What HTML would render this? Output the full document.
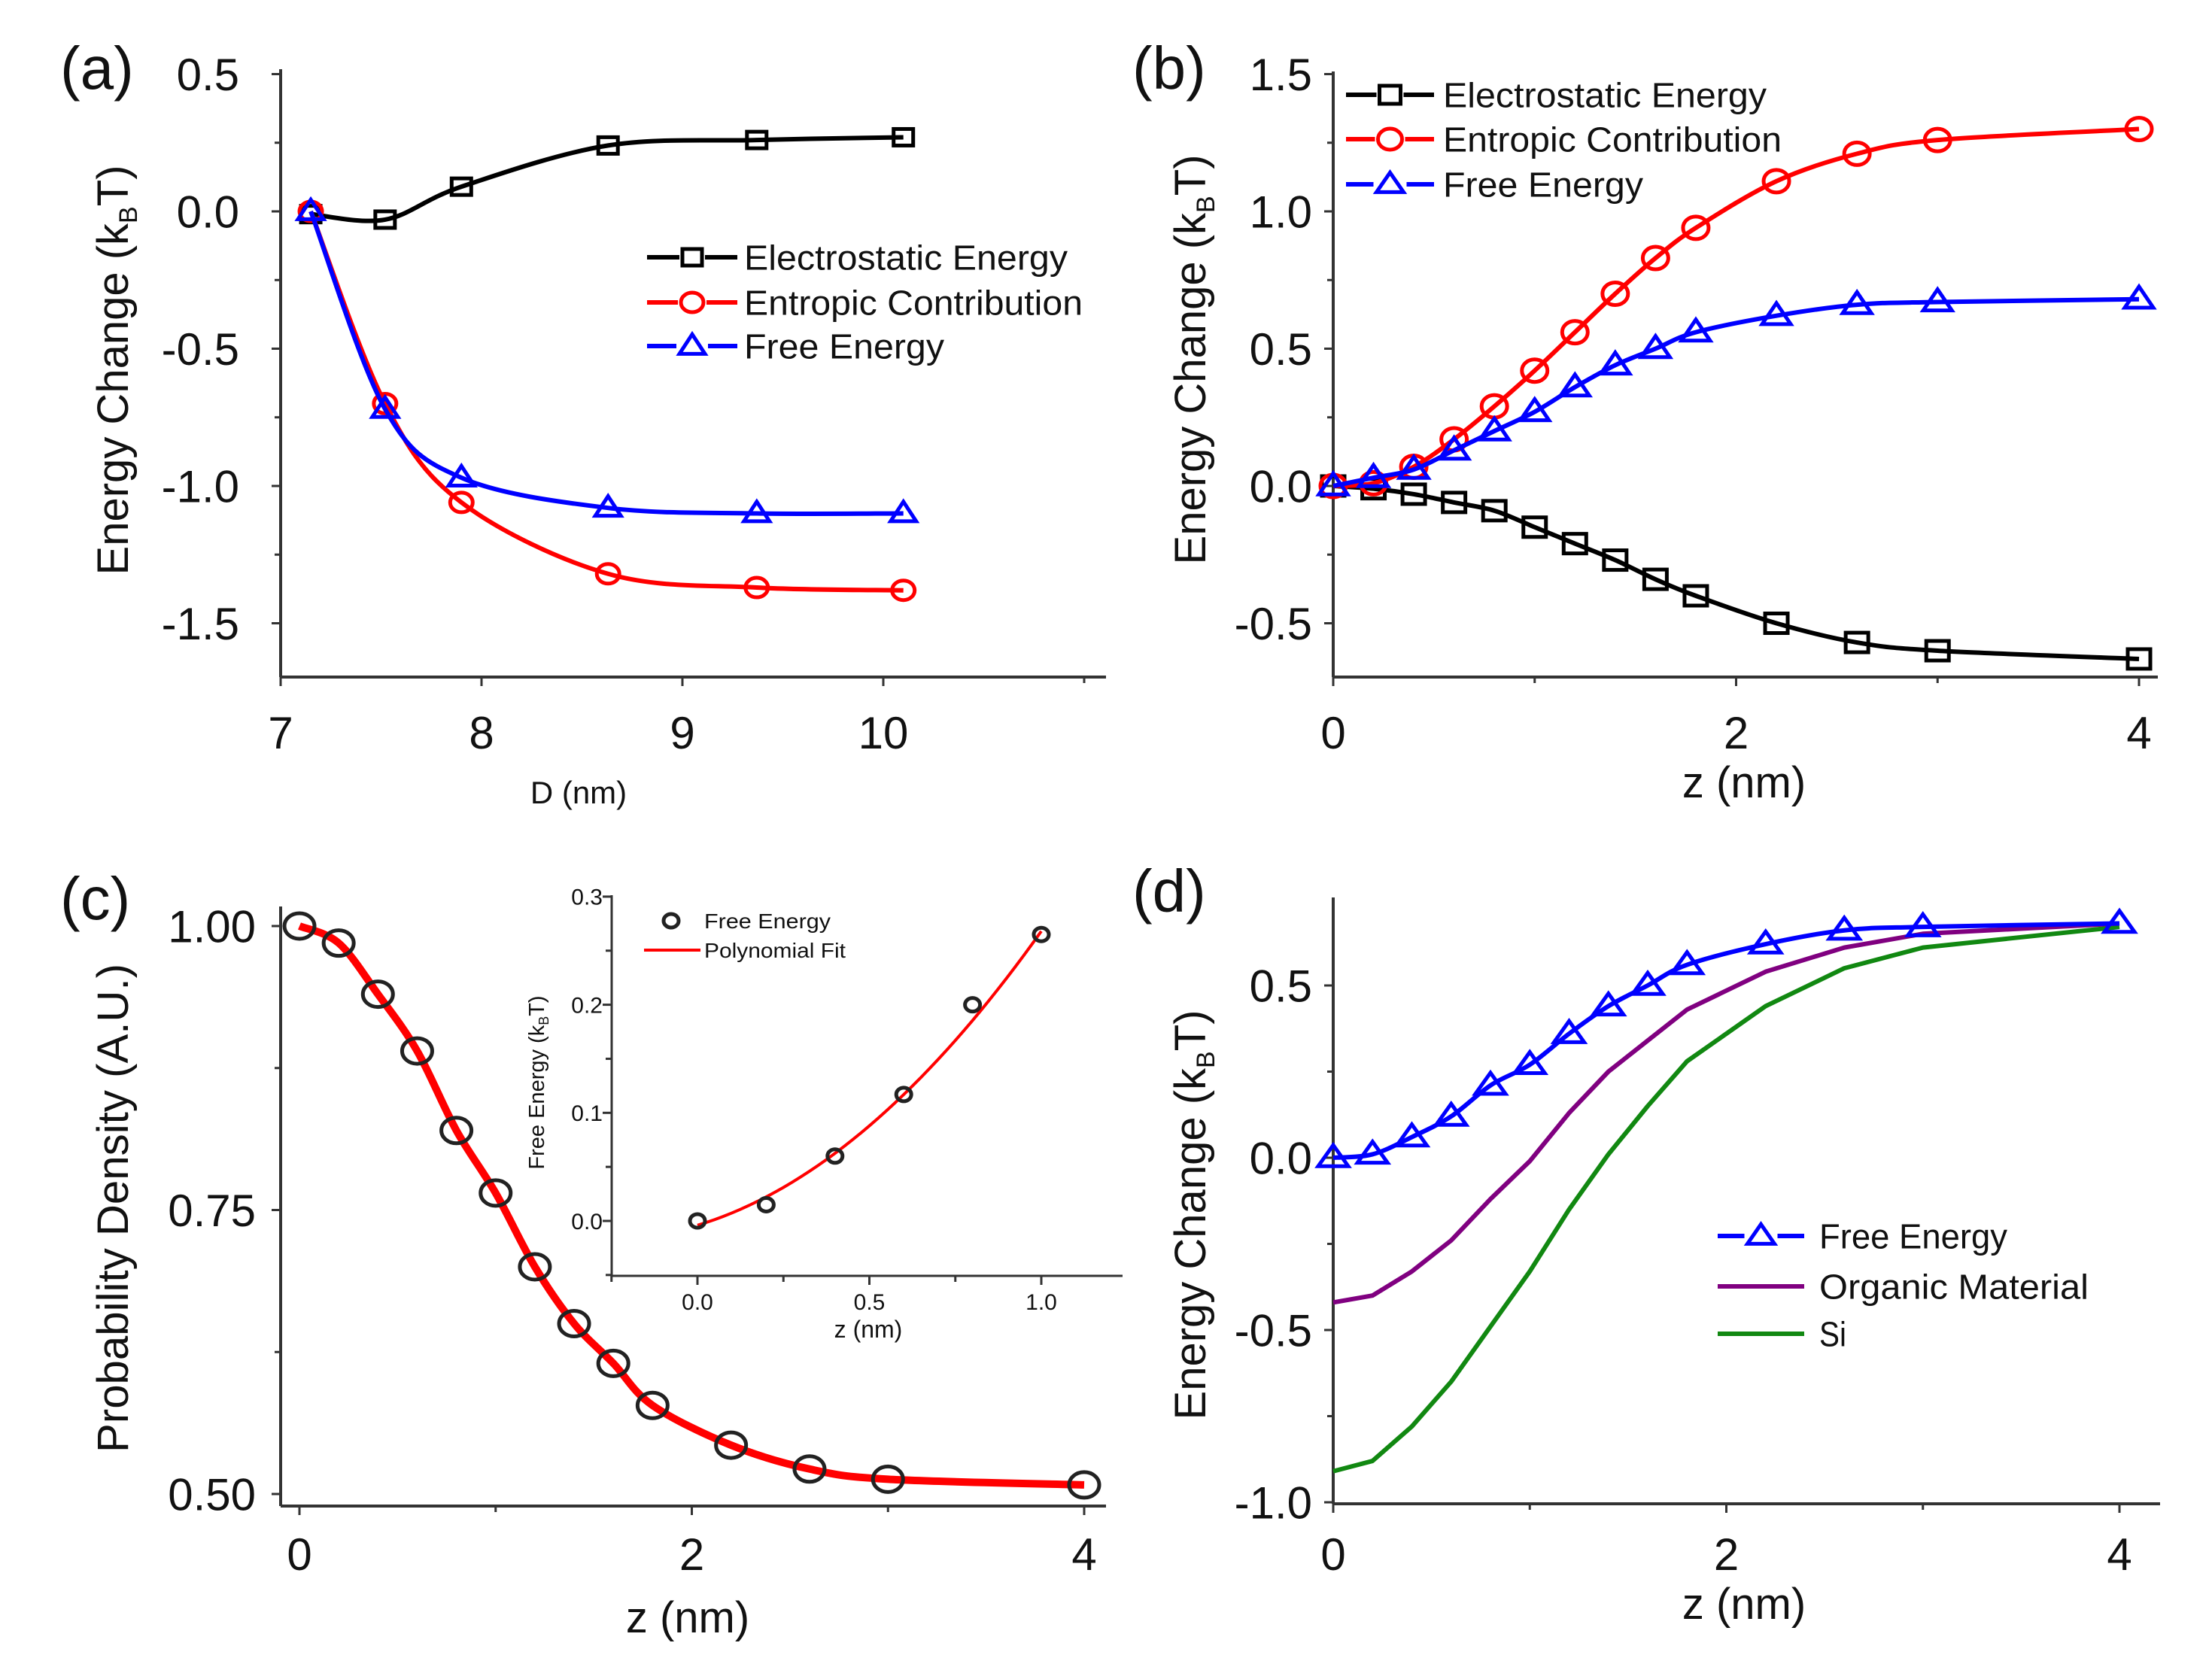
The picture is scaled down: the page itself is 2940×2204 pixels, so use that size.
<!DOCTYPE html>
<html><head><meta charset="utf-8"><style>
html,body{margin:0;padding:0;background:#fff;}
svg{display:block;}
text{font-family:"Liberation Sans",Arial,sans-serif;}
</style></head><body>
<svg id="fig" xmlns="http://www.w3.org/2000/svg" width="2940" height="2204" viewBox="0 0 2940 2204">
<rect x="0" y="0" width="2940" height="2204" fill="#fff"/>
</svg>
<script>
// ---------- Panel (a) data ----------
const aX = [7.15, 7.52, 7.9, 8.63, 9.37, 10.1];
const aElec = [-0.01, -0.03, 0.09, 0.24, 0.26, 0.27];
const aEntr = [0, -0.7, -1.06, -1.32, -1.37, -1.38];
const aFree = [0, -0.72, -0.97, -1.08, -1.1, -1.1];
const aXTicks = [7, 8, 9, 10, 11];
const aXTickLabels = ["7", "8", "9", "10", ""];
const aYTicks = [0.5, 0.25, 0, -0.25, -0.5, -0.75, -1, -1.25, -1.5];
const aYTickLabels = ["0.5", "", "0.0", "", "-0.5", "", "-1.0", "", "-1.5"];
// ---------- Panel (b) data ----------
const bX = [0, 0.2, 0.4, 0.6, 0.8, 1.0, 1.2, 1.4, 1.6, 1.8, 2.2, 2.6, 3.0, 4.0];
const bEntr = [0, 0.01, 0.07, 0.17, 0.29, 0.42, 0.56, 0.7, 0.83, 0.94, 1.11, 1.21, 1.26, 1.3];
const bFree = [0, 0.03, 0.06, 0.13, 0.2, 0.27, 0.36, 0.44, 0.5, 0.56, 0.62, 0.66, 0.67, 0.68];
const bElec = [0, -0.01, -0.03, -0.06, -0.09, -0.15, -0.21, -0.27, -0.34, -0.4, -0.5, -0.57, -0.6, -0.63];
const bXTicks = [0, 1, 2, 3, 4];
const bXTickLabels = ["0", "", "2", "", "4"];
const bYTicks = [1.5, 1.25, 1.0, 0.75, 0.5, 0.25, 0, -0.25, -0.5];
const bYTickLabels = ["1.5", "", "1.0", "", "0.5", "", "0.0", "", "-0.5"];
// ---------- Panel (c) data ----------
const cX = [0, 0.2, 0.4, 0.6, 0.8, 1.0, 1.2, 1.4, 1.6, 1.8, 2.2, 2.6, 3.0, 4.0];
const cP = [1.0, 0.985, 0.94, 0.89, 0.82, 0.765, 0.7, 0.65, 0.615, 0.578, 0.543, 0.522, 0.513, 0.508];
const cXTicks = [0, 1, 2, 3, 4];
const cXTickLabels = ["0", "", "2", "", "4"];
const cYTicks = [1.0, 0.875, 0.75, 0.625, 0.5];
const cYTickLabels = ["1.00", "", "0.75", "", "0.50"];
// inset
const iX = [0, 0.2, 0.4, 0.6, 0.8, 1.0];
const iF = [0, 0.015, 0.06, 0.117, 0.2, 0.265];
const iFitCoef = [-0.004, 0.096, 0.176];
const iXTicks = [-0.25, 0, 0.25, 0.5, 0.75, 1.0];
const iXTickLabels = ["", "0.0", "", "0.5", "", "1.0"];
const iYTicks = [0.3, 0.25, 0.2, 0.15, 0.1, 0.05, 0, -0.05];
const iYTickLabels = ["0.3", "", "0.2", "", "0.1", "", "0.0", ""];
// ---------- Panel (d) data ----------
const dX = [0, 0.2, 0.4, 0.6, 0.8, 1.0, 1.2, 1.4, 1.6, 1.8, 2.2, 2.6, 3.0, 4.0];
const dFree = [0, 0.01, 0.06, 0.12, 0.21, 0.27, 0.36, 0.44, 0.5, 0.56, 0.62, 0.66, 0.67, 0.68];
const dOrg = [-0.42, -0.4, -0.33, -0.24, -0.12, -0.01, 0.13, 0.25, 0.34, 0.43, 0.54, 0.61, 0.65, 0.68];
const dSi = [-0.91, -0.88, -0.78, -0.65, -0.49, -0.33, -0.15, 0.01, 0.15, 0.28, 0.44, 0.55, 0.61, 0.67];
const dXTicks = [0, 1, 2, 3, 4];
const dXTickLabels = ["0", "", "2", "", "4"];
const dYTicks = [0.5, 0.25, 0, -0.25, -0.5, -0.75, -1.0];
const dYTickLabels = ["0.5", "", "0.0", "", "-0.5", "", "-1.0"];

const NS = "http://www.w3.org/2000/svg";
const fig = document.getElementById("fig");
function mk(tag, attrs, parent) {
  const e = document.createElementNS(NS, tag);
  for (const k in attrs) e.setAttribute(k, attrs[k]);
  (parent || fig).appendChild(e);
  return e;
}
function lin(d0, d1, r0, r1) { return v => r0 + (v - d0) * (r1 - r0) / (d1 - d0); }
function smoothPath(pts) {
  let d = "M" + pts[0][0] + "," + pts[0][1];
  for (let i = 0; i < pts.length - 1; i++) {
    const p0 = pts[i - 1] || pts[i], p1 = pts[i], p2 = pts[i + 1], p3 = pts[i + 2] || pts[i + 1];
    const c1x = p1[0] + (p2[0] - p0[0]) / 6, c1y = p1[1] + (p2[1] - p0[1]) / 6;
    const c2x = p2[0] - (p3[0] - p1[0]) / 6, c2y = p2[1] - (p3[1] - p1[1]) / 6;
    d += " C" + c1x + "," + c1y + " " + c2x + "," + c2y + " " + p2[0] + "," + p2[1];
  }
  return d;
}
function linePath(pts) { return "M" + pts.map(p => p[0] + "," + p[1]).join(" L"); }

function axes(g, o) {
  const ax = mk("g", {}, g);
  
  
  mk("line", {x1: o.axX, y1: o.yTop, x2: o.axX, y2: o.yBot, stroke: "#333", "stroke-width": o.sw || 4}, ax);
  mk("line", {x1: o.axX, y1: o.yBot, x2: o.xEnd, y2: o.yBot, stroke: "#333", "stroke-width": o.sw || 4}, ax);
  o.xticks.forEach((t, i) => {
    const x = o.sx(t);
    mk("line", {x1: x, y1: o.yBot, x2: x, y2: o.yBot + (o.xlabels[i] ? 12 : 8), stroke: "#333", "stroke-width": 3}, ax);
    if (o.xlabels[i]) {
      const tx = mk("text", {x: x, y: o.xLabY, "font-size": o.fs, "text-anchor": "middle", fill: "#111"}, ax);
      tx.textContent = o.xlabels[i];
      
      
    }
  });
  o.yticks.forEach((t, i) => {
    const y = o.sy(t);
    mk("line", {x1: o.axX, y1: y, x2: o.axX - (o.ylabels[i] ? 12 : 8), y2: y, stroke: "#333", "stroke-width": 3}, ax);
    if (o.ylabels[i]) {
      const tx = mk("text", {x: o.yLabX, y: y + o.fs * 0.36, "font-size": o.fs, "text-anchor": "end", fill: "#111"}, ax);
      tx.textContent = o.ylabels[i];
      
      
    }
  });
}
function marker(g, type, x, y, color, sz, name) {
  let m;
  if (type === "sq") m = mk("rect", {x: x - sz[0], y: y - sz[1], width: 2 * sz[0], height: 2 * sz[1], fill: "none", stroke: color, "stroke-width": 5}, g);
  else if (type === "ci") m = mk("ellipse", {cx: x, cy: y, rx: sz[0], ry: sz[1], fill: "none", stroke: color, "stroke-width": 5}, g);
  else m = mk("path", {d: "M" + x + "," + (y - sz[1] * 1.2) + " L" + (x + sz[0]) + "," + (y + sz[1] * 0.8) + " L" + (x - sz[0]) + "," + (y + sz[1] * 0.8) + "Z", fill: "none", stroke: color, "stroke-width": 5, "stroke-linejoin": "miter"}, g);
  
  
}
function series(g, xs, ys, sx, sy, color, mtype, sz, name, smooth, sw) {
  const sg = mk("g", {}, g);
  
  
  const pts = xs.map((x, i) => [sx(x), sy(ys[i])]);
  const p = mk("path", {d: smooth ? smoothPath(pts) : linePath(pts), fill: "none", stroke: color, "stroke-width": sw || 6, "stroke-linejoin": "round"}, sg);
  
  
  if (mtype) pts.forEach(pt => marker(sg, mtype, pt[0], pt[1], color, sz, name + '-marker'));
}
function text(g, x, y, s, fs, name, opts) {
  opts = opts || {};
  const a = {x: x, y: y, "font-size": fs, fill: opts.fill || "#111"};
  if (opts.anchor) a["text-anchor"] = opts.anchor;
  if (opts.len) { a.textLength = opts.len; a.lengthAdjust = "spacingAndGlyphs"; }
  if (opts.rot) a.transform = "rotate(-90 " + x + " " + y + ")";
  const t = mk("text", a, g);
  t.innerHTML = s;
  
  
  return t;
}
function legendRow(g, x1, x2, tx, y, color, mtype, sz, label, fs, len, name) {
  const lg = mk("g", {}, g);
  
  
  mk("line", {x1: x1, y1: y, x2: x2, y2: y, stroke: color, "stroke-width": 6}, lg);
  if (mtype) {
    const cx = (x1 + x2) / 2;
    const w = sz[0] + 4;
    mk("rect", {x: cx - w, y: y - sz[1] - 4, width: 2 * w, height: 2 * sz[1] + 8, fill: "#fff"}, lg);
    marker(lg, mtype, cx, y, color, sz, name + '-marker');
  }
  text(lg, tx, y + fs * 0.36, label, fs, name + '-label', {len: len});
}
const kbt = 'Energy Change (k<tspan font-size="34" dy="12">B</tspan><tspan dy="-12">T)</tspan>';

// ===== Panel (a) =====
(function () {
  const g = mk("g", {});  
  const sx = lin(7, 8, 373, 640), sy = lin(0, 0.5, 281, 98.5);
  axes(g, {name: "panel-a", axX: 373, yTop: 92, yBot: 900, xEnd: 1470, sx: sx, sy: sy, xticks: aXTicks, xlabels: aXTickLabels, yticks: aYTicks, ylabels: aYTickLabels, fs: 60, xLabY: 995, yLabX: 318});
  series(g, aX, aElec, sx, sy, "#000", "sq", [13, 11], "a-electrostatic", true);
  series(g, aX, aEntr, sx, sy, "#f00", "ci", [15, 13], "a-entropic", true);
  series(g, aX, aFree, sx, sy, "#00f", "tr", [17, 13], "a-free-energy", true);
  text(g, 80, 118, "(a)", 80, "panel-a-label");
  text(g, 170, 492, kbt, 58, "panel-a-y-axis-title", {anchor: "middle", rot: true});
  text(g, 769, 1068, "D (nm)", 42, "panel-a-x-axis-title", {anchor: "middle"});
  legendRow(g, 860, 980, 989, 342, "#000", "sq", [13, 11], "Electrostatic Energy", 46, 430, "legend-a-electrostatic");
  legendRow(g, 860, 980, 989, 402, "#f00", "ci", [15, 13], "Entropic Contribution", 46, 450, "legend-a-entropic");
  legendRow(g, 860, 980, 989, 460, "#00f", "tr", [17, 13], "Free Energy", 46, 266, "legend-a-free-energy");
})();

// ===== Panel (b) =====
(function () {
  const g = mk("g", {});  
  const sx = lin(0, 4, 1772, 2843), sy = lin(0, 0.5, 646, 463.5);
  axes(g, {name: "panel-b", axX: 1772, yTop: 95, yBot: 900, xEnd: 2868, sx: sx, sy: sy, xticks: bXTicks, xlabels: bXTickLabels, yticks: bYTicks, ylabels: bYTickLabels, fs: 60, xLabY: 995, yLabX: 1744});
  series(g, bX, bElec, sx, sy, "#000", "sq", [15, 13], "b-electrostatic", true);
  series(g, bX, bEntr, sx, sy, "#f00", "ci", [17, 15], "b-entropic", true);
  series(g, bX, bFree, sx, sy, "#00f", "tr", [19, 14], "b-free-energy", true);
  text(g, 1505, 118, "(b)", 80, "panel-b-label");
  text(g, 1602, 478, kbt, 58, "panel-b-y-axis-title", {anchor: "middle", rot: true});
  text(g, 2318, 1060, "z (nm)", 58, "panel-b-x-axis-title", {anchor: "middle"});
  legendRow(g, 1789, 1906, 1918, 126, "#000", "sq", [14, 12], "Electrostatic Energy", 46, 430, "legend-b-electrostatic");
  legendRow(g, 1789, 1906, 1918, 185, "#f00", "ci", [16, 14], "Entropic Contribution", 46, 450, "legend-b-entropic");
  legendRow(g, 1789, 1906, 1918, 245, "#00f", "tr", [18, 13], "Free Energy", 46, 266, "legend-b-free-energy");
})();

// ===== Panel (c) =====
(function () {
  const g = mk("g", {});  
  const sx = lin(0, 4, 398, 1441), sy = lin(0.5, 1.0, 1986, 1231);
  axes(g, {name: "panel-c", axX: 373, yTop: 1205, yBot: 2002, xEnd: 1470, sx: sx, sy: sy, xticks: cXTicks, xlabels: cXTickLabels, yticks: cYTicks, ylabels: cYTickLabels, fs: 60, xLabY: 2087, yLabX: 340});
  series(g, cX, cP, sx, sy, "#f00", null, null, "c-fit", true, 10);
  const mg = mk("g", {}, g);  
  cX.forEach((x, i) => marker(mg, "ci", sx(x), sy(cP[i]), "#222", [20, 17], "c-probability-marker"));
  text(g, 80, 1222, "(c)", 80, "panel-c-label");
  text(g, 170, 1606, "Probability Density (A.U.)", 58, "panel-c-y-axis-title", {anchor: "middle", rot: true, len: 650});
  text(g, 914, 2170, "z (nm)", 58, "panel-c-x-axis-title", {anchor: "middle"});
  // inset
  const ig = mk("g", {}, g);  
  const ix = lin(0, 1, 927, 1384), iy = lin(0, 0.1, 1623, 1479.3);
  axes(ig, {name: "inset", axX: 813, yTop: 1190, yBot: 1696, xEnd: 1492, sx: ix, sy: iy, xticks: iXTicks, xlabels: iXTickLabels, yticks: iYTicks, ylabels: iYTickLabels, fs: 30, xLabY: 1741, yLabX: 801, sw: 3});
  const fitX = [];
  for (let k = 0; k <= 40; k++) fitX.push(k / 40);
  const fitPts = fitX.map(x => [ix(x), iy(iFitCoef[0] + iFitCoef[1] * x + iFitCoef[2] * x * x)]);
  const fp = mk("path", {d: linePath(fitPts), fill: "none", stroke: "#f00", "stroke-width": 4}, ig);
  
  
  iX.forEach((x, i) => marker(ig, "ci", ix(x), iy(iF[i]), "#222", [10, 9], "inset-free-energy-marker"));
  text(ig, 723, 1439, 'Free Energy (k<tspan font-size="18" dy="6">B</tspan><tspan dy="-6">T)</tspan>', 29, "inset-y-axis-title", {anchor: "middle", rot: true});
  text(ig, 1154, 1778, "z (nm)", 32, "inset-x-axis-title", {anchor: "middle"});
  const l1 = mk("g", {}, ig);  
  marker(l1, "ci", 892, 1224, "#222", [10, 9], "inset-legend-marker");
  text(l1, 936, 1234, "Free Energy", 28, "inset-legend-free-energy-label", {len: 168});
  const l2 = mk("g", {}, ig);  
  mk("line", {x1: 856, y1: 1263, x2: 931, y2: 1263, stroke: "#f00", "stroke-width": 4}, l2);
  text(l2, 936, 1273, "Polynomial Fit", 28, "inset-legend-polynomial-fit-label", {len: 188});
})();

// ===== Panel (d) =====
(function () {
  const g = mk("g", {});  
  const sx = lin(0, 4, 1772, 2817), sy = lin(0, 0.5, 1539, 1310);
  axes(g, {name: "panel-d", axX: 1772, yTop: 1193, yBot: 1999, xEnd: 2871, sx: sx, sy: sy, xticks: dXTicks, xlabels: dXTickLabels, yticks: dYTicks, ylabels: dYTickLabels, fs: 60, xLabY: 2087, yLabX: 1744});
  series(g, dX, dSi, sx, sy, "#118811", null, null, "d-si", false, 6);
  series(g, dX, dOrg, sx, sy, "#800080", null, null, "d-organic-material", false, 6);
  series(g, dX, dFree, sx, sy, "#00f", "tr", [20, 14], "d-free-energy", true);
  text(g, 1505, 1212, "(d)", 80, "panel-d-label");
  text(g, 1602, 1615, kbt, 58, "panel-d-y-axis-title", {anchor: "middle", rot: true});
  text(g, 2318, 2152, "z (nm)", 58, "panel-d-x-axis-title", {anchor: "middle"});
  legendRow(g, 2283, 2398, 2418, 1643, "#00f", "tr", [18, 13], "Free Energy", 46, 250, "legend-d-free-energy");
  legendRow(g, 2283, 2398, 2418, 1710, "#800080", null, null, "Organic Material", 46, 358, "legend-d-organic-material");
  legendRow(g, 2283, 2398, 2418, 1773, "#118811", null, null, "Si", 46, 36, "legend-d-si");
})();
</script>
</body></html>
